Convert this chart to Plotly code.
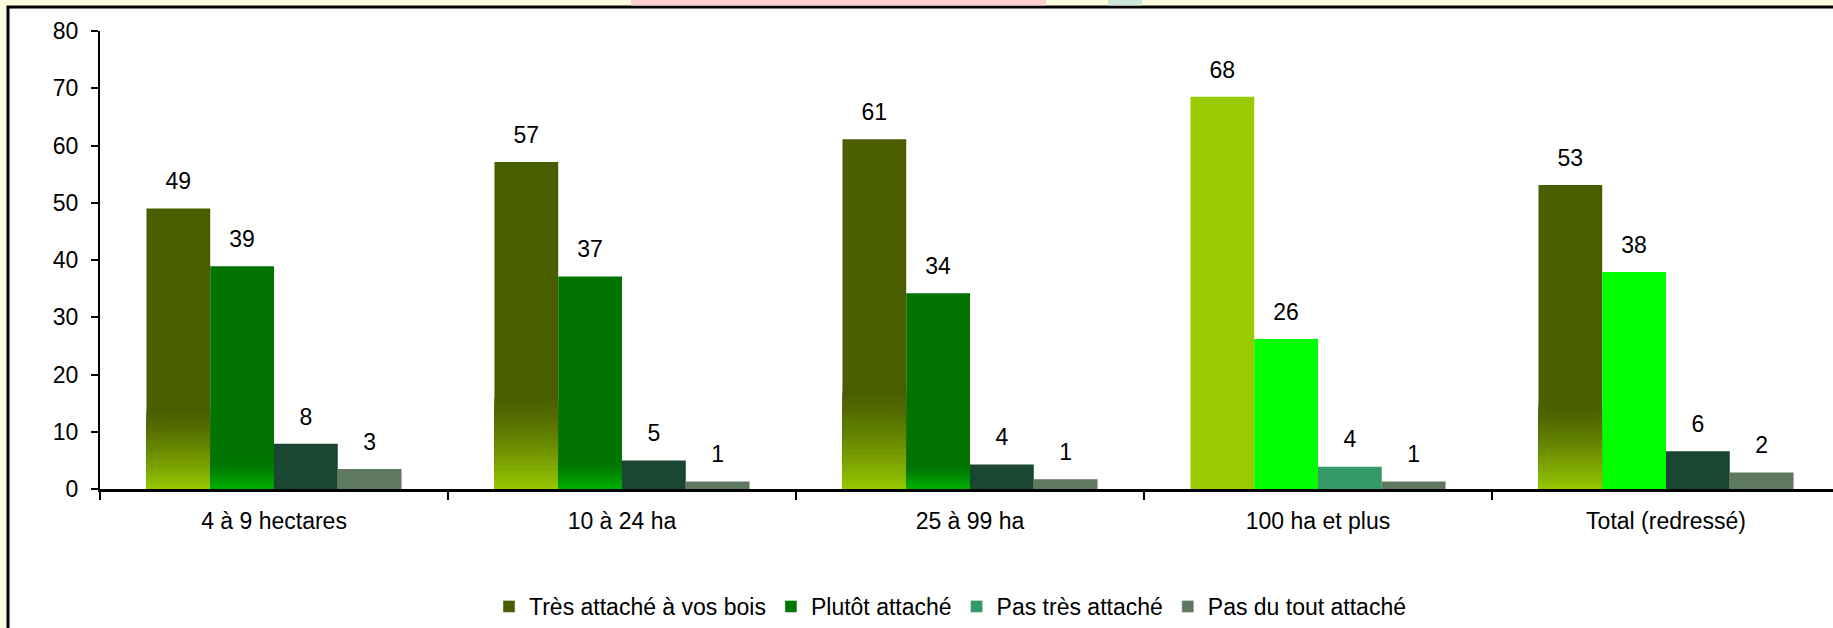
import plotly.graph_objects as go

# data
categories = ["4 à 9 hectares", "10 à 24 ha", "25 à 99 ha", "100 ha et plus", "Total (redressé)"]
series_names = ["Très attaché à vos bois", "Plutôt attaché", "Pas très attaché", "Pas du tout attaché"]
tres_attache = [49.0, 57.1, 61.1, 68.5, 53.1]
plutot_attache = [38.9, 37.1, 34.2, 26.2, 37.9]
pas_tres = [7.9, 5.0, 4.3, 3.9, 6.6]
pas_du_tout = [3.5, 1.3, 1.7, 1.3, 2.9]
labels_tres = [49, 57, 61, 68, 53]
labels_plutot = [39, 37, 34, 26, 38]
labels_pas_tres = [8, 5, 4, 4, 6]
labels_pas_du_tout = [3, 1, 1, 1, 2]

values = [tres_attache, plutot_attache, pas_tres, pas_du_tout]
labels = [labels_tres, labels_plutot, labels_pas_tres, labels_pas_du_tout]

# styling
FONT = "Liberation Sans, Arial, sans-serif"
FS = 23
BARGAP = 0.267
legend_colors = ["#4A5E00", "#007700", "#339966", "#5F7860"]
bar_colors = [
    ["#4A5E00", "#4A5E00", "#4A5E00", "#99CC00", "#4A5E00"],
    ["#007300", "#007300", "#007300", "#00FF00", "#00FF00"],
    ["#1A4731", "#1A4731", "#1A4731", "#339966", "#1A4731"],
    ["#5F7860"] * 5,
]
# bottom gradient (style): which bars fade, light colour at base, fraction of bar height
gradients = [
    ([True, True, True, False, True], "#96C800", 0.28),
    ([True, True, True, False, False], "#00B000", 0.13),
    None,
    None,
]


def mix(c1, c2, t):
    a = [int(c1[i:i + 2], 16) for i in (1, 3, 5)]
    b = [int(c2[i:i + 2], 16) for i in (1, 3, 5)]
    return "#" + "".join(f"{round(a[k] + (b[k] - a[k]) * t):02x}" for k in range(3))


fig = go.Figure()
for i, name in enumerate(series_names):
    og = str(i)
    fig.add_trace(go.Bar(x=categories, y=values[i], name=name, offsetgroup=og, showlegend=False,
                         marker=dict(color=bar_colors[i], line=dict(width=0)), hoverinfo="skip"))
    if gradients[i]:
        flags, light, frac = gradients[i]
        steps = 20
        for k in range(steps):
            f = frac * (steps - k) / steps
            t = ((k + 0.5) / steps) ** 1.3
            hs = [v * f if flag else 0 for v, flag in zip(values[i], flags)]
            fig.add_trace(go.Bar(x=categories, y=hs, offsetgroup=og, showlegend=False,
                                 marker=dict(color=mix(bar_colors[i][0], light, t), line=dict(width=0)),
                                 hoverinfo="skip"))
    # legend entry
    fig.add_trace(go.Bar(x=[categories[0]], y=[None], name=name, offsetgroup=og,
                         marker=dict(color=legend_colors[i])))
    # value labels
    fig.add_trace(go.Scatter(x=categories, y=values[i], mode="markers+text", offsetgroup=og,
                             text=[str(v) for v in labels[i]], textposition="top center",
                             marker=dict(size=20, opacity=0), textfont=dict(size=FS, color="black"),
                             showlegend=False, hoverinfo="skip"))

W, H = 1833, 628
L, T, B = 100, 31, 138
pw, ph = W - L, H - T - B


def px_x(x):
    return (x - L) / pw


def px_y(y):
    return (H - B - y) / ph


fig.update_layout(
    width=W, height=H,
    margin=dict(l=L, r=0, t=T, b=B),
    paper_bgcolor="#FFFFE0", plot_bgcolor="white",
    barmode="group", bargap=BARGAP, bargroupgap=0,
    scattermode="group", scattergap=BARGAP,
    font=dict(family=FONT, size=FS, color="black"),
    showlegend=True,
    legend=dict(orientation="h", x=px_x(950), xanchor="center", y=px_y(608), yanchor="middle",
                font=dict(size=FS), itemwidth=30, bgcolor="rgba(0,0,0,0)", traceorder="normal"),
    shapes=[
        dict(type="rect", xref="paper", yref="paper", x0=px_x(8), x1=1.02, y0=-0.4, y1=px_y(7),
             line=dict(color="black", width=3), fillcolor="white", layer="below"),
        dict(type="rect", xref="paper", yref="paper", x0=px_x(631), x1=px_x(1046), y0=px_y(5.5), y1=px_y(0),
             line=dict(width=0), fillcolor="#FFD0D0", layer="below"),
        dict(type="rect", xref="paper", yref="paper", x0=px_x(1108), x1=px_x(1142), y0=px_y(5.5), y1=px_y(0),
             line=dict(width=0), fillcolor="#CCE8D8", layer="below"),
    ],
)
fig.update_xaxes(type="category", range=[-0.5, 4.5 - 7 / 348], showgrid=False, zeroline=False,
                 showline=True, linecolor="black", linewidth=3, ticks="outside", tickson="boundaries",
                 ticklen=8, tickwidth=2, tickcolor="black", ticklabelstandoff=9,
                 tickfont=dict(size=FS, color="black"))
fig.update_yaxes(range=[0, 80], dtick=10, showgrid=False, zeroline=False, showline=True,
                 linecolor="black", linewidth=2, ticks="outside", ticklen=7, tickwidth=2,
                 tickcolor="black", ticklabelstandoff=8, tickfont=dict(size=FS, color="black"))

fig.write_html("out.html", config={"displayModeBar": False},
               post_script="document.body.style.margin='0px';")
